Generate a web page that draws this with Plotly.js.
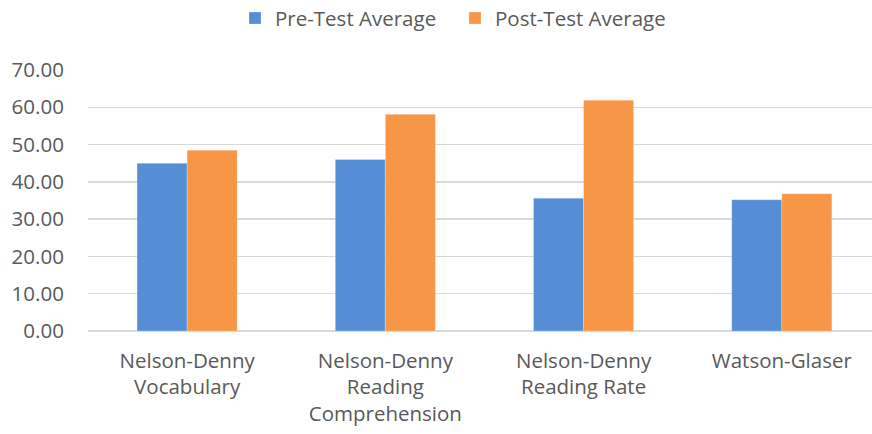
<!DOCTYPE html>
<html><head><meta charset="utf-8">
<script src="https://cdn.plot.ly/plotly-3.0.1.min.js"></script>
<style>html,body{margin:0;padding:0;background:#fff}</style>
</head><body>
<div id="chart" style="width:872px;height:434px"></div>
<script>
const categories = ["Nelson-Denny<br>Vocabulary", "Nelson-Denny<br>Reading<br>Comprehension", "Nelson-Denny<br>Reading Rate", "Watson-Glaser"];
const preTest = [45.0, 46.0, 35.6, 35.2];
const postTest = [48.5, 58.1, 61.9, 36.8];
const yTicks = [0, 10, 20, 30, 40, 50, 60, 70];

const font = {family: "Open Sans, sans-serif", size: 20.5, color: "#595959"};
const data = [
  {type: "bar", name: "Pre-Test Average", x: [0,1,2,3], y: preTest, marker: {color: "#558ED5", line: {color: "rgba(255,255,255,0.5)", width: 0.5}}},
  {type: "bar", name: "Post-Test Average", x: [0,1,2,3], y: postTest, marker: {color: "#F79646", line: {color: "rgba(255,255,255,0.5)", width: 0.5}}}
];
const layout = {
  width: 872, height: 434,
  margin: {l: 88, r: 0, t: 70, b: 103, autoexpand: false},
  font: font,
  barmode: "group", bargap: 0.495, bargroupgap: 0,
  showlegend: true,
  legend: {orientation: "h", x: 235/872, xref: "container", xanchor: "left", y: 0.958, yref: "container", yanchor: "middle",
           font: font, itemwidth: 30, entrywidth: 175, tracegroupgap: 0},
  xaxis: {range: [-0.5, 3.455], tickvals: [0,1,2,3], ticktext: categories, showgrid: false, zeroline: false, automargin: false,
          ticks: "outside", ticklen: 11, tickcolor: "rgba(0,0,0,0)", tickfont: font, showline: false},
  yaxis: {range: [0, 70], tickvals: yTicks, ticktext: yTicks.map(v => v.toFixed(2)), gridcolor: "#D9D9D9", gridwidth: 1.5, automargin: false,
          zeroline: true, zerolinecolor: "#D9D9D9", zerolinewidth: 1.5, ticks: "outside", ticklen: 19, tickcolor: "rgba(0,0,0,0)", tickfont: font},
  plot_bgcolor: "#fff", paper_bgcolor: "#fff"
};
Plotly.newPlot("chart", data, layout, {displayModeBar: false, staticPlot: true});
</script>
</body></html>
